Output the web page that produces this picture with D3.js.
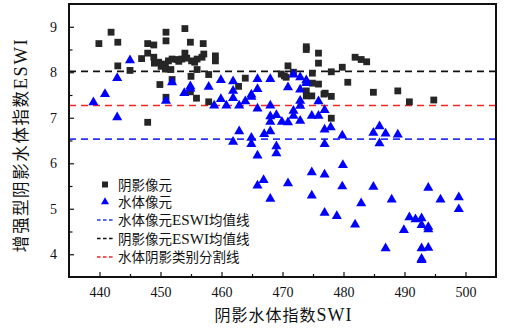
<!DOCTYPE html>
<html>
<head>
<meta charset="utf-8">
<script src="https://cdn.jsdelivr.net/npm/d3@7"></script>
<style>
  body { margin: 0; background: #fff; }
  svg { display: block; }
  .tick text { font-family: "Liberation Serif", serif; font-size: 14px; fill: #111; }
</style>
</head>
<body>
<svg id="chart" width="508" height="331"></svg>
<script>
// 阴影像元 (SWI, ESWI)
const shadowX = [439.9, 441.9, 443.0, 443.0, 445.0, 447.9, 448.9, 447.9, 446.9, 448.9,
  449.7, 450.1, 450.8, 450.8, 451.3, 451.7, 451.9, 452.7, 453.5, 454.3,
  455.1, 455.6, 456.0, 456.8, 457.1, 450.9, 450.9, 454.0, 454.9, 457.0,
  454.0, 449.9, 451.9, 450.9, 455.0, 454.9, 455.9, 456.0, 457.9, 447.9,
  459.0, 459.0, 457.9, 463.9, 462.8, 469.8, 470.3, 470.6, 470.9, 471.8,
  473.9, 473.9, 475.9, 475.9, 474.9, 475.9, 474.9, 473.9, 474.8, 476.8,
  477.0, 478.0, 478.0, 478.0, 479.8, 480.7, 481.9, 482.9, 483.8, 484.9,
  488.9, 490.8, 494.8, 473.9, 453.0, 449.0];
const shadowY = [8.63, 8.88, 8.66, 8.14, 8.04, 8.63, 8.60, 8.42, 8.30, 8.33,
  8.22, 8.13, 8.18, 8.07, 8.25, 8.06, 8.29, 8.28, 8.29, 8.31,
  8.25, 8.22, 8.29, 8.33, 8.40, 8.88, 8.69, 8.96, 8.66, 8.63,
  8.42, 7.73, 7.84, 7.45, 7.91, 7.57, 7.43, 8.06, 7.95, 6.90,
  8.36, 8.25, 7.35, 7.87, 7.69, 7.96, 7.92, 7.89, 8.14, 8.00,
  8.56, 8.50, 8.42, 8.20, 7.98, 7.74, 7.76, 7.59, 7.48, 7.52,
  7.54, 7.47, 6.99, 8.01, 8.11, 7.78, 8.33, 8.28, 8.23, 7.56,
  7.59, 7.35, 7.39, 7.48, 8.24, 8.20];

// 水体像元 (SWI, ESWI)
const waterX = [439.0, 440.9, 442.9, 442.9, 445.0, 450.9, 451.9, 453.9, 454.9, 454.9,
  457.9, 458.8, 459.9, 459.9, 460.8, 461.9, 461.9, 461.9, 462.9, 462.9,
  461.9, 463.9, 464.9, 464.9, 464.9, 464.9, 465.9, 465.9, 465.9, 465.9,
  467.0, 468.0, 468.0, 468.0, 468.0, 468.0, 469.0, 469.0, 469.0, 469.9,
  470.9, 470.9, 471.8, 471.8, 471.8, 472.9, 472.9, 472.9, 472.9, 472.9,
  473.9, 473.9, 474.8, 475.9, 475.9, 476.9, 476.9, 477.9, 476.9, 479.8,
  479.9, 485.9, 484.9, 486.9, 485.9, 488.9, 474.8, 476.9, 479.8, 466.9,
  465.9, 470.9, 468.0, 474.8, 476.9, 478.9, 481.9, 482.9, 484.9, 486.9,
  487.9, 489.9, 490.8, 491.8, 492.8, 492.8, 493.9, 493.9, 493.9, 492.8,
  493.9, 492.8, 492.8, 495.9, 498.9, 498.9];
const waterY = [7.34, 7.52, 7.87, 7.01, 8.26, 7.37, 7.78, 7.54, 7.69, 7.64,
  7.68, 7.27, 7.83, 7.41, 7.27, 7.80, 7.59, 7.43, 7.27, 6.70,
  6.47, 7.36, 7.51, 7.46, 6.56, 6.42, 7.85, 7.63, 7.20, 6.17,
  6.64, 7.85, 7.27, 7.03, 6.91, 6.70, 7.06, 6.37, 6.22, 6.91,
  6.90, 7.67, 7.95, 7.15, 7.04, 7.89, 7.62, 7.37, 7.26, 6.93,
  7.82, 7.76, 7.04, 7.04, 7.36, 7.17, 6.74, 6.79, 6.42, 6.61,
  5.96, 6.81, 6.67, 6.65, 6.44, 6.63, 5.80, 5.75, 5.49, 5.63,
  5.51, 5.56, 5.22, 5.29, 4.91, 4.84, 4.65, 5.12, 5.48, 4.13,
  5.20, 4.53, 4.81, 4.77, 4.79, 4.64, 5.46, 4.60, 4.55, 4.13,
  4.14, 3.90, 3.87, 5.20, 5.25, 4.99];

// 参考线
const lineNames = ["水体像元ESWI均值线", "阴影像元ESWI均值线", "水体阴影类别分割线"];
const lineValues = [6.53, 8.02, 7.27];
const lineColors = ["#2a35f5", "#111111", "#f52525"];

const seriesNames = ["阴影像元", "水体像元"];
const xTicks = [440, 450, 460, 470, 480, 490, 500];
const yTicks = [4, 5, 6, 7, 8, 9];

const svg = d3.select("#chart");
const pLeft = 69, pRight = 496, pTop = 4, pBottom = 277;
const fontMix = "'Liberation Serif', 'Noto Sans CJK SC', serif";

const x = d3.scaleLinear().domain([435, 505]).range([pLeft, pRight]);
const y = d3.scaleLinear().domain([3.5, 9.5]).range([pBottom, pTop]);

// mixed text: latin runs a bit larger so caps match the CJK height
function mixedText(sel, str, size) {
  const parts = str.match(/[A-Za-z0-9]+|[^A-Za-z0-9]+/g);
  sel.selectAll("tspan")
    .data(parts)
    .join("tspan")
    .attr("font-size", d => /[A-Za-z0-9]/.test(d) ? size * 1.12 : size)
    .text(d => d);
}

// minor ticks
svg.append("g")
  .attr("transform", `translate(0,${pBottom})`)
  .call(d3.axisBottom(x).tickValues([445, 455, 465, 475, 485, 495]).tickSize(-3).tickFormat(""))
  .call(g => g.select(".domain").remove());
svg.append("g")
  .attr("transform", `translate(${pLeft},0)`)
  .call(d3.axisLeft(y).tickValues([4.5, 5.5, 6.5, 7.5, 8.5]).tickSize(-3.5).tickFormat(""))
  .call(g => g.select(".domain").remove());

// major ticks
svg.append("g")
  .attr("transform", `translate(0,${pBottom})`)
  .call(d3.axisBottom(x).tickValues(xTicks).tickSize(-5).tickPadding(10).tickFormat(d3.format("d")))
  .call(g => g.select(".domain").remove());
svg.append("g")
  .attr("transform", `translate(${pLeft},0)`)
  .call(d3.axisLeft(y).tickValues(yTicks).tickSize(-5).tickPadding(12).tickFormat(d3.format("d")))
  .call(g => g.select(".domain").remove());

svg.selectAll(".tick line").attr("stroke", "#111").attr("stroke-width", 1.2);

// reference lines
svg.append("g").selectAll("line")
  .data(lineValues)
  .join("line")
  .attr("x1", pLeft).attr("x2", pRight)
  .attr("y1", d => y(d)).attr("y2", d => y(d))
  .attr("stroke", (d, i) => lineColors[i])
  .attr("stroke-width", 1.6)
  .attr("stroke-dasharray", "7,5");

// shadow pixels
svg.append("g").selectAll("rect")
  .data(d3.range(shadowX.length))
  .join("rect")
  .attr("x", i => x(shadowX[i]) - 3.4)
  .attr("y", i => y(shadowY[i]) - 3.4)
  .attr("width", 6.8).attr("height", 6.8)
  .attr("fill", "#262626");

// water pixels
const tri = d3.symbol(d3.symbolTriangle, 44);
svg.append("g").selectAll("path")
  .data(d3.range(waterX.length))
  .join("path")
  .attr("d", tri)
  .attr("transform", i => `translate(${x(waterX[i])},${y(waterY[i])})`)
  .attr("fill", "#0000ff");

// frame
svg.append("rect")
  .attr("x", pLeft).attr("y", pTop)
  .attr("width", pRight - pLeft).attr("height", pBottom - pTop)
  .attr("fill", "none").attr("stroke", "#111").attr("stroke-width", 2);

// legend
const legend = svg.append("g").attr("transform", "translate(105,0)");
const legendY = [184.5, 202, 220, 238.5, 257];

legend.append("rect")
  .attr("x", -3).attr("y", legendY[0] - 3)
  .attr("width", 6).attr("height", 6)
  .attr("fill", "#262626");
legend.append("path")
  .attr("d", d3.symbol(d3.symbolTriangle, 28))
  .attr("transform", `translate(0,${legendY[1]})`)
  .attr("fill", "#0000ff");
legend.selectAll("line.key")
  .data(lineNames)
  .join("line")
  .attr("class", "key")
  .attr("x1", -8).attr("x2", 8)
  .attr("y1", (d, i) => legendY[i + 2]).attr("y2", (d, i) => legendY[i + 2])
  .attr("stroke", (d, i) => lineColors[i])
  .attr("stroke-width", 1.4)
  .attr("stroke-dasharray", "3.6,2.4");

legend.selectAll("text.lbl")
  .data(seriesNames.concat(lineNames))
  .join("text")
  .attr("class", "lbl")
  .attr("x", 13)
  .attr("y", (d, i) => legendY[i])
  .attr("font-family", fontMix)
  .attr("fill", "#111")
  .attr("dominant-baseline", "central")
  .each(function(d) { mixedText(d3.select(this), d, 13.5); });

// axis titles
svg.append("text")
  .attr("x", (pLeft + pRight) / 2 + 1)
  .attr("y", 315)
  .attr("text-anchor", "middle")
  .attr("dominant-baseline", "central")
  .attr("font-family", fontMix)
  .attr("letter-spacing", 1)
  .attr("fill", "#111")
  .call(s => mixedText(s, "阴影水体指数SWI", 16));

svg.append("text")
  .attr("transform", "translate(21,145) rotate(-90)")
  .attr("text-anchor", "middle")
  .attr("dominant-baseline", "central")
  .attr("font-family", fontMix)
  .attr("letter-spacing", 1.6)
  .attr("fill", "#111")
  .call(s => mixedText(s, "增强型阴影水体指数ESWI", 16.5));
</script>
</body>
</html>
